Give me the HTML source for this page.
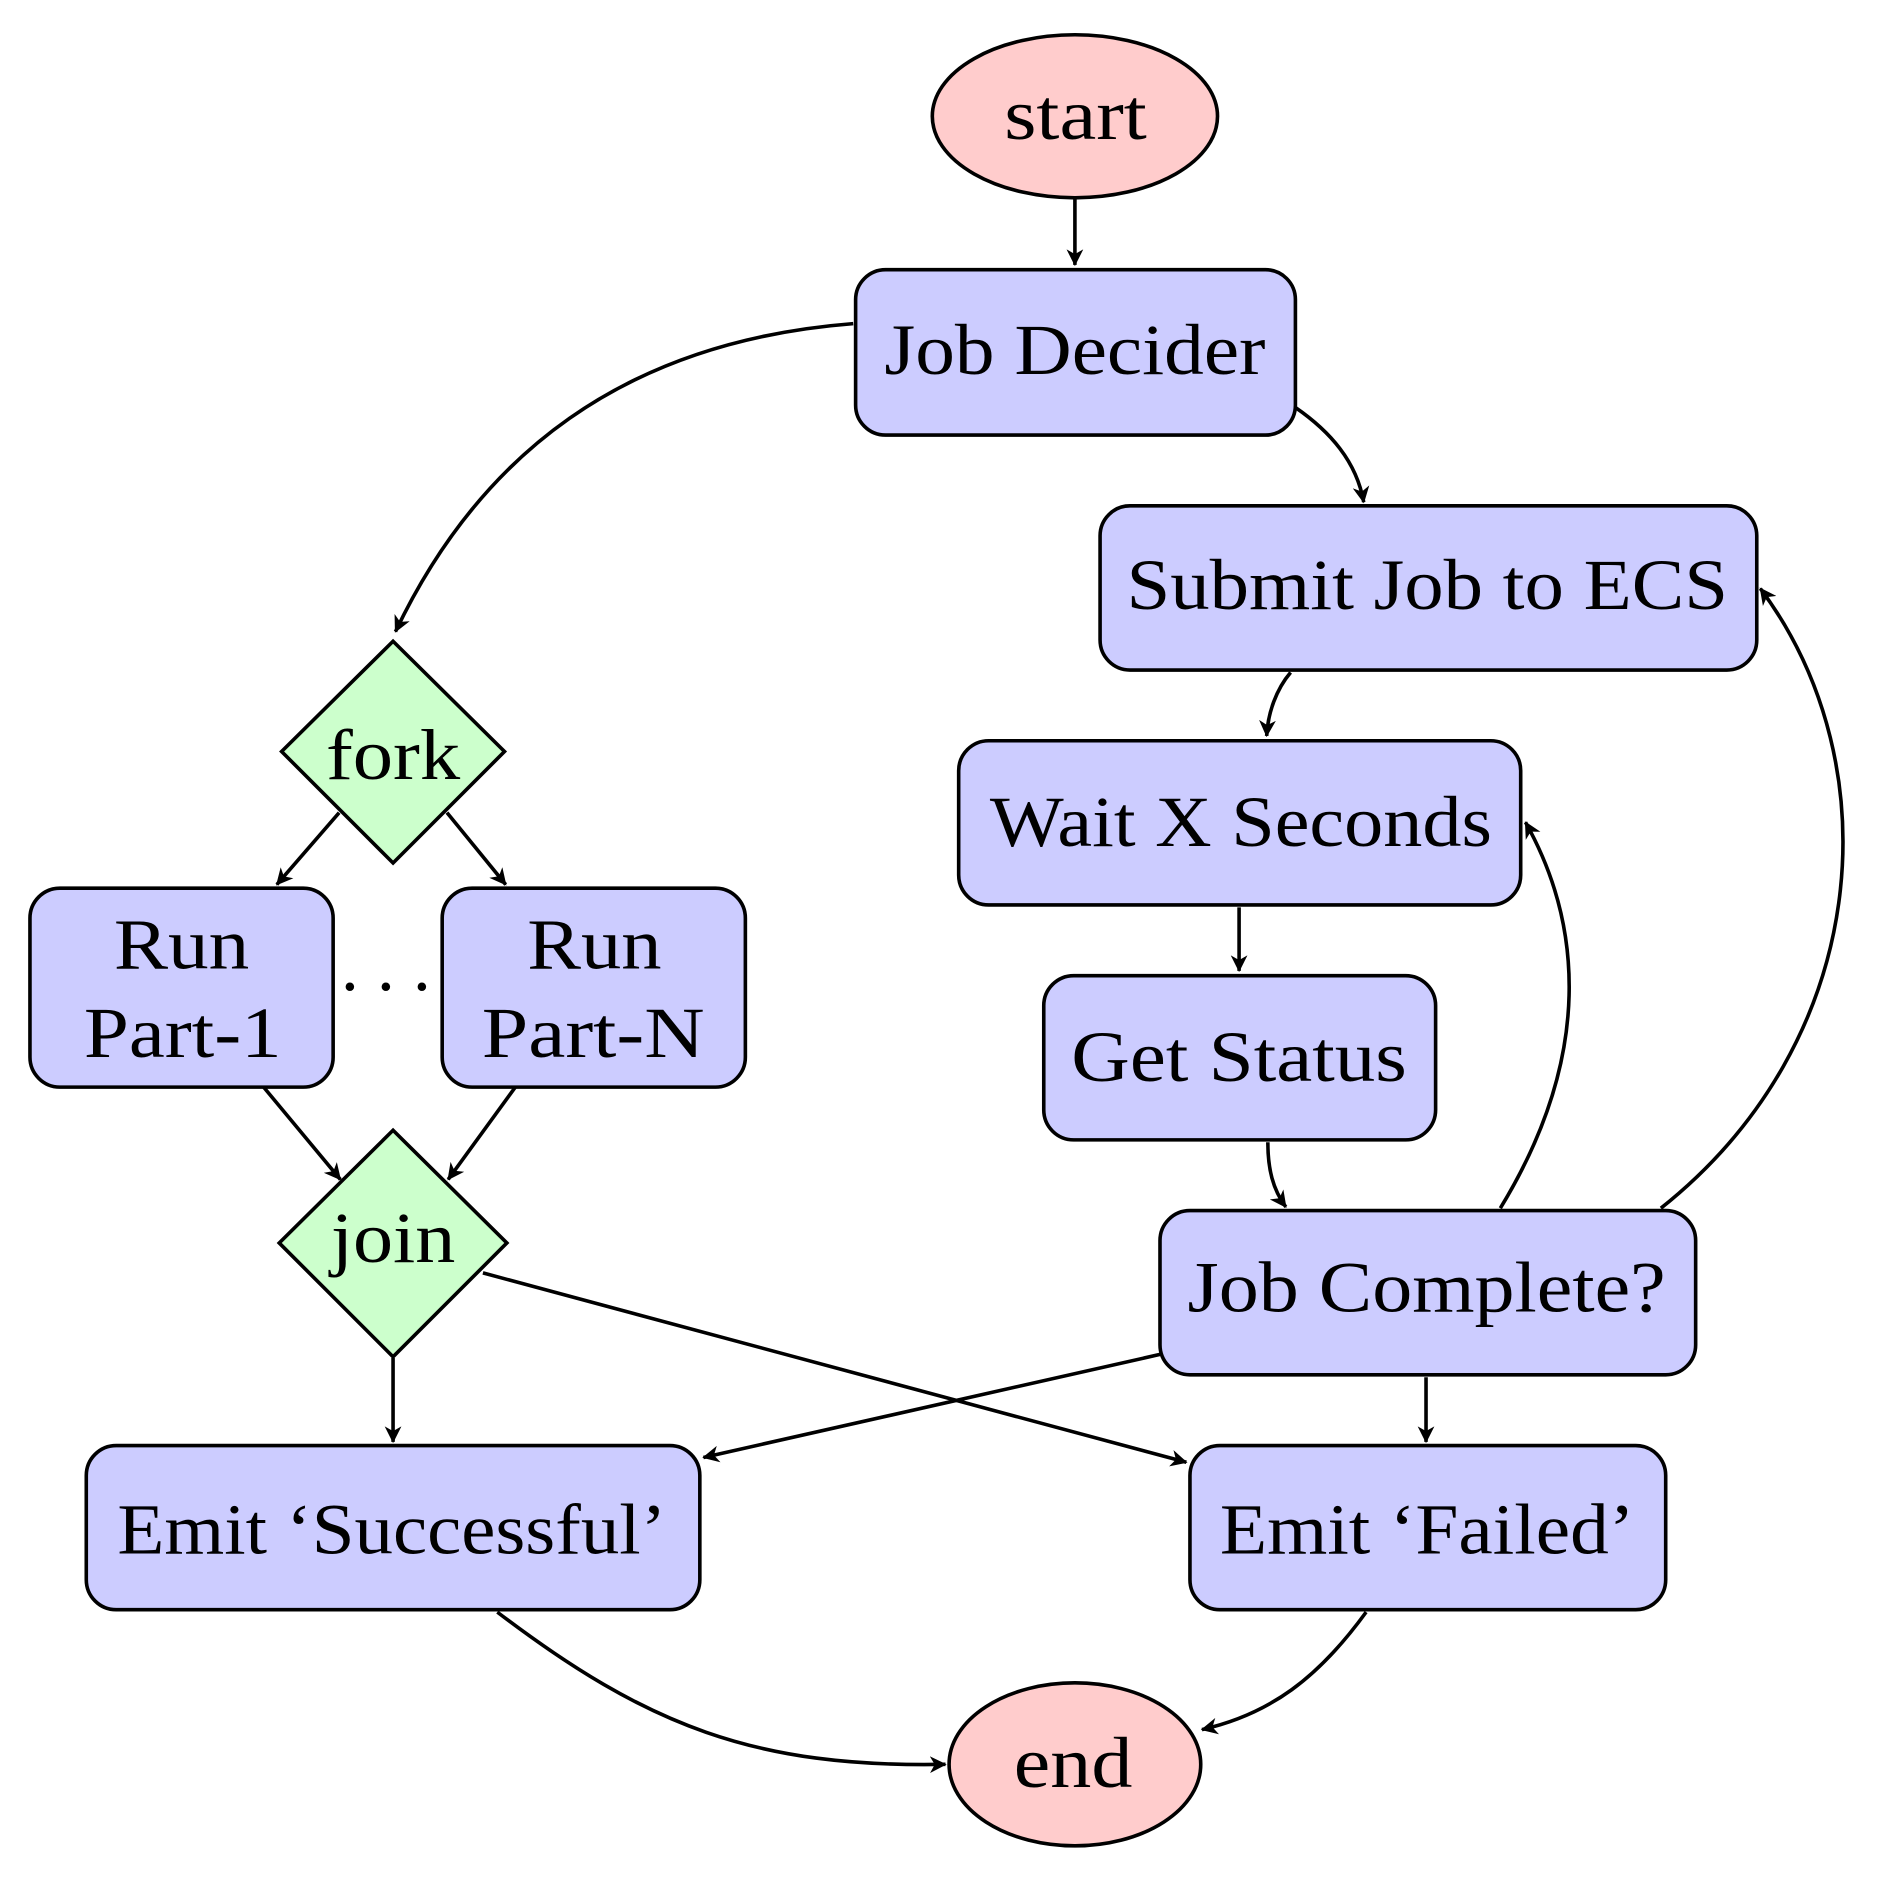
<!DOCTYPE html>
<html><head><meta charset="utf-8"><style>
html,body{margin:0;padding:0;background:#fff;}
svg{display:block;}
text{font-family:"Liberation Serif",serif;font-size:60px;fill:#000;}
</style></head><body>
<svg width="1879" height="1889" viewBox="0 0 1568 1576" preserveAspectRatio="none" xmlns="http://www.w3.org/2000/svg">
<defs>
<marker id="a" markerWidth="16" markerHeight="14" refX="13" refY="7" orient="auto" markerUnits="userSpaceOnUse">
<path d="M0,0 L14,7 L0,14 L4,7 Z" fill="#000"/>
</marker>
</defs>
<g fill="none" stroke="#000" stroke-width="3" marker-end="url(#a)">
<path d="M897,165 L897,221"/>
<path d="M712,270 C520,285 400,380 330,527"/>
<path d="M1081,340 C1110,360 1132,385 1138,419"/>
<path d="M1077,561 C1065,575 1058,595 1057,614"/>
<path d="M1034,757 L1034,810"/>
<path d="M1058,953 C1058,975 1062,992 1073,1007"/>
<path d="M1252,1008 C1330,880 1320,770 1273,686"/>
<path d="M1386,1008 C1560,870 1580,640 1469,491"/>
<path d="M283,678 L231,738"/>
<path d="M373,678 L422,738"/>
<path d="M220,907 L284,984"/>
<path d="M430,907 L374,984"/>
<path d="M328,1133 L328,1203"/>
<path d="M403,1062 L990,1220"/>
<path d="M968,1130 L587,1216"/>
<path d="M1190,1149 L1190,1203"/>
<path d="M415,1345 C540,1440 630,1475 789,1472"/>
<path d="M1140,1345 C1100,1400 1060,1430 1003,1443"/>
</g>
<g stroke="#000" stroke-width="3">
<ellipse cx="897" cy="97" rx="119" ry="68" fill="#ffcccc"/>
<ellipse cx="897" cy="1472" rx="105" ry="68" fill="#ffcccc"/>
<rect x="714" y="225" width="367" height="138" rx="25" fill="#ccccff"/>
<rect x="918" y="422" width="548" height="137" rx="25" fill="#ccccff"/>
<rect x="800" y="618" width="469" height="137" rx="25" fill="#ccccff"/>
<rect x="871" y="814" width="327" height="137" rx="25" fill="#ccccff"/>
<rect x="968" y="1010" width="447" height="137" rx="25" fill="#ccccff"/>
<rect x="72" y="1206" width="512" height="137" rx="25" fill="#ccccff"/>
<rect x="993" y="1206" width="397" height="137" rx="25" fill="#ccccff"/>
<rect x="25" y="741" width="253" height="166" rx="25" fill="#ccccff"/>
<rect x="369" y="741" width="253" height="166" rx="25" fill="#ccccff"/>
<polygon points="328,535 421,627 328,720 235,627" fill="#ccffcc"/>
<polygon points="328,943 423,1037 328,1132 233,1037" fill="#ccffcc"/>
</g>
<g lengthAdjust="spacingAndGlyphs">
<text x="838" y="116" textLength="119" lengthAdjust="spacingAndGlyphs">start</text>
<text x="846" y="1491" textLength="99" lengthAdjust="spacingAndGlyphs">end</text>
<text x="738" y="312" textLength="318" lengthAdjust="spacingAndGlyphs">Job Decider</text>
<text x="940" y="508" textLength="502" lengthAdjust="spacingAndGlyphs">Submit Job to ECS</text>
<text x="826" y="706" textLength="419" lengthAdjust="spacingAndGlyphs">Wait X Seconds</text>
<text x="894" y="902" textLength="280" lengthAdjust="spacingAndGlyphs">Get Status</text>
<text x="991" y="1094" textLength="399" lengthAdjust="spacingAndGlyphs">Job Complete?</text>
<text x="98" y="1296" textLength="458" lengthAdjust="spacingAndGlyphs">Emit ‘Successful’</text>
<text x="1018" y="1296" textLength="346" lengthAdjust="spacingAndGlyphs">Emit ‘Failed’</text>
<text x="95" y="808" textLength="113" lengthAdjust="spacingAndGlyphs">Run</text>
<text x="70" y="882" textLength="165" lengthAdjust="spacingAndGlyphs">Part-1</text>
<text x="440" y="808" textLength="112" lengthAdjust="spacingAndGlyphs">Run</text>
<text x="402" y="882" textLength="186" lengthAdjust="spacingAndGlyphs">Part-N</text>
<text x="272" y="650" textLength="112" lengthAdjust="spacingAndGlyphs">fork</text>
<text x="276" y="1053" textLength="104" lengthAdjust="spacingAndGlyphs">join</text>
<text x="322" y="826" text-anchor="middle">. . .</text>
</g>
</svg>
</body></html>
